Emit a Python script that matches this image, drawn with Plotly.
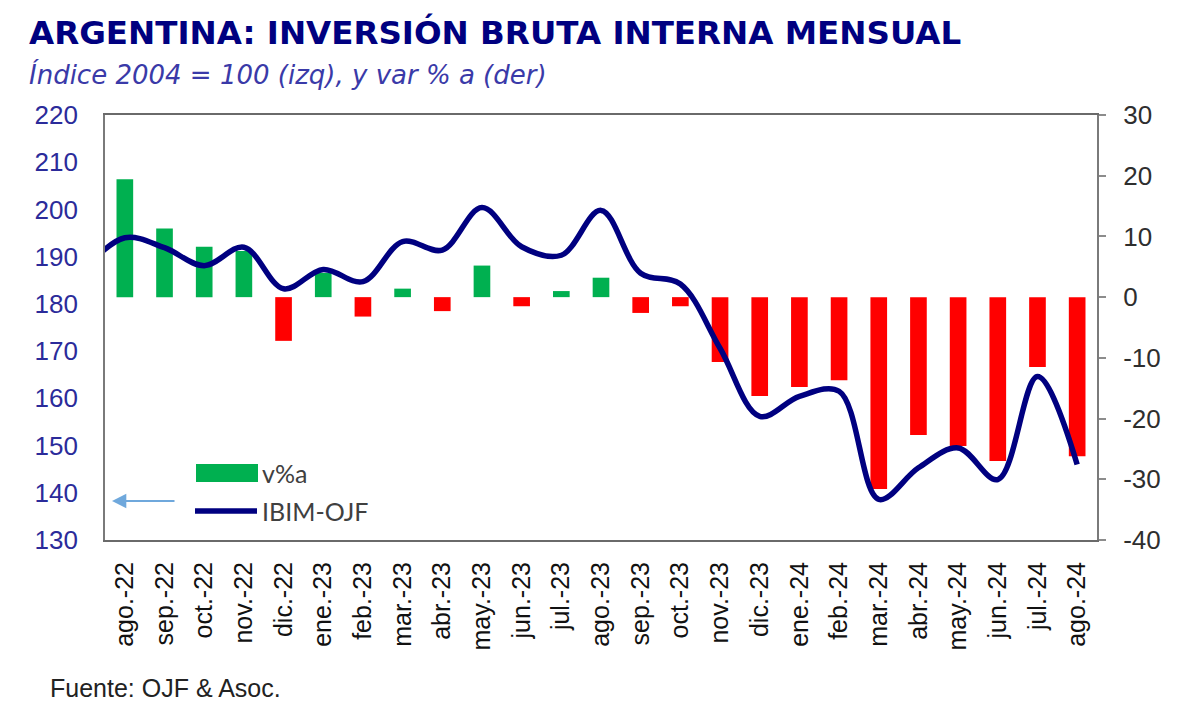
import plotly.graph_objects as go

months = ["ago.-22", "sep.-22", "oct.-22", "nov.-22", "dic.-22", "ene.-23", "feb.-23", "mar.-23",
          "abr.-23", "may.-23", "jun.-23", "jul.-23", "ago.-23", "sep.-23", "oct.-23", "nov.-23",
          "dic.-23", "ene.-24", "feb.-24", "mar.-24", "abr.-24", "may.-24", "jun.-24", "jul.-24", "ago.-24"]

# v%a (right axis)
var_pct = [19.4, 11.3, 8.3, 7.6, -7.2, 4.0, -3.2, 1.4, -2.3, 5.2, -1.5, 1.0, 3.2, -2.6, -1.5,
           -10.7, -16.3, -14.8, -13.7, -31.6, -22.7, -24.5, -27.0, -11.5, -26.2]

# IBIM-OJF index (left axis); first value is the previous month, clipped at the plot edge
ibim_prev = 187.5
ibim = [194.0, 191.9, 188.1, 192.0, 183.2, 187.3, 184.7, 193.2, 191.4, 200.4, 192.1, 190.3,
        199.8, 186.5, 184.2, 170.6, 156.2, 160.4, 161.5, 138.6, 145.3, 149.5, 142.8, 164.6, 146.0]

left_ticks = list(range(130, 221, 10))
right_ticks = list(range(-40, 31, 10))
right_tick_text = [str(v) for v in right_ticks]

GREEN = "#00B050"
RED = "#FF0000"
NAVY = "#000080"

xpos = list(range(len(months)))
bar_colors = [GREEN if v >= 0 else RED for v in var_pct]

fig = go.Figure()
fig.add_trace(go.Bar(x=xpos, y=var_pct, marker=dict(color=bar_colors, line=dict(width=0)),
                     width=0.42, name="v%a", yaxis="y", showlegend=False))
fig.add_trace(go.Scatter(x=[-1] + xpos, y=[ibim_prev] + ibim, mode="lines",
                         line=dict(color=NAVY, width=5.5, shape="spline", smoothing=1.0),
                         name="IBIM-OJF", yaxis="y2", showlegend=False))

# page offset of the figure inside the html page
OFF = 8
W, H = 1198, 720
PL, PR, PT, PB = 105, 1097, 115, 540   # plot area in page pixels
L = PL - OFF
T = PT - OFF
pw, ph = PR - PL, PB - PT
R = W - L - pw
B = H - T - ph


def px(x):
    return (x - PL) / pw


def py(y):
    return (PB - y) / ph


fig.update_layout(
    width=W, height=H,
    margin=dict(l=L, r=R, t=T, b=B),
    paper_bgcolor="white", plot_bgcolor="white",
    showlegend=False,
    xaxis=dict(range=[-0.5, len(months) - 0.5], tickvals=xpos, ticktext=months, tickangle=-90,
               showgrid=False, zeroline=False, showline=True, mirror=True, linecolor="#6A6A6A",
               linewidth=2, ticks="", ticklabelstandoff=10,
               tickfont=dict(family="Liberation Sans, Arial", size=25, color="#111111")),
    yaxis=dict(side="right", range=[-40, 30], tickvals=right_ticks, ticktext=right_tick_text,
               showgrid=False, zeroline=False,
               showline=True, mirror=True, linecolor="#7A7A7A", linewidth=2,
               ticks="outside", ticklen=7, tickcolor="#8C8C8C", tickwidth=2, ticklabelstandoff=12,
               tickfont=dict(family="Liberation Sans, Arial", size=26, color="#2E2E2E")),
    yaxis2=dict(side="left", overlaying="y", range=[130, 220], tickvals=left_ticks, showgrid=False,
                zeroline=False, showline=False, ticks="", ticklabelstandoff=26,
                tickfont=dict(family="Liberation Sans, Arial", size=26, color="#2B2B9A")),
)

ann = [
    dict(text="<b>ARGENTINA: INVERSIÓN BRUTA INTERNA MENSUAL</b>", x=px(27), y=py(32), xanchor="left",
         yanchor="middle", font=dict(family="DejaVu Sans", size=32.5, color=NAVY)),
    dict(text="<i>Índice 2004 = 100 (izq), y var % a (der)</i>", x=px(27), y=py(74), xanchor="left",
         yanchor="middle", font=dict(family="DejaVu Sans", size=26, color="#3A3AA8")),
    dict(text="Fuente: OJF &amp; Asoc.", x=px(48), y=py(688), xanchor="left", yanchor="middle",
         font=dict(family="Liberation Sans, Arial", size=25, color="#222222")),
    dict(text="v%a", x=px(260), y=py(473), xanchor="left", yanchor="middle",
         font=dict(family="Lato", size=25, color="#404040")),
    dict(text="IBIM-OJF", x=px(260), y=py(511), xanchor="left", yanchor="middle",
         font=dict(family="Lato", size=25, color="#404040")),
    dict(x=px(112), y=py(501), ax=64, ay=0, axref="pixel", ayref="pixel",
         text="", showarrow=True, arrowhead=2, arrowsize=1.3, arrowwidth=2.2,
         arrowcolor="#6FA8DC"),
]
for a in ann:
    a.setdefault("xref", "paper")
    a.setdefault("yref", "paper")
    a.setdefault("showarrow", False)
fig.update_layout(annotations=ann)

fig.update_layout(shapes=[
    dict(type="rect", xref="paper", yref="paper", x0=px(196), x1=px(258), y0=py(482), y1=py(464),
         fillcolor=GREEN, line=dict(width=0)),
    dict(type="line", xref="paper", yref="paper", x0=px(195), x1=px(257), y0=py(511), y1=py(511),
         line=dict(color=NAVY, width=5.5)),
])

fig.write_html("out.html")
